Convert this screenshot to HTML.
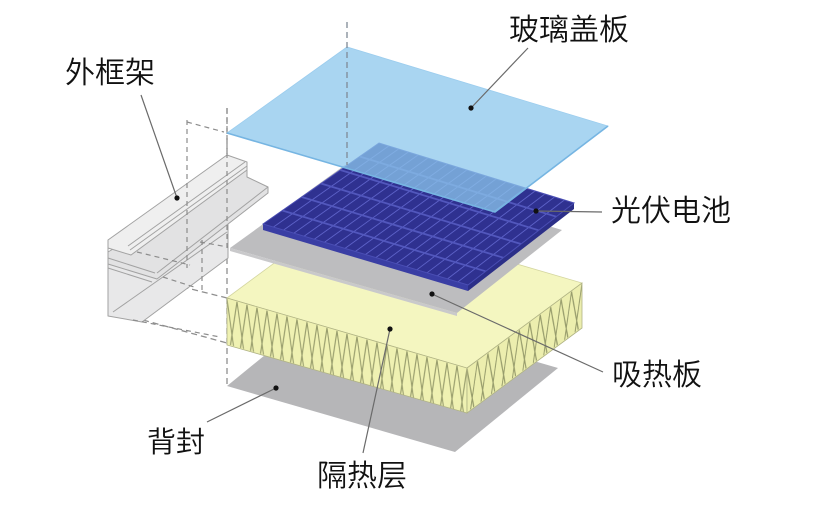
<!DOCTYPE html>
<html><head><meta charset="utf-8"><style>
html,body{margin:0;padding:0;background:#fff;}
svg{display:block;}
text{font-family:"Liberation Sans","Noto Sans CJK SC",sans-serif;font-size:30px;fill:#111;font-weight:350;}
</style></head><body>
<svg width="820" height="507" viewBox="0 0 820 507" xmlns="http://www.w3.org/2000/svg">
<defs>
<pattern id="zzL" patternUnits="userSpaceOnUse" x="0" y="0" width="10" height="47" patternTransform="translate(227,298) skewY(16.2)">
<path d="M0,1 L6.5,46 M3.5,46 L10,1" stroke="#979c6c" stroke-width="1.1" fill="none"/>
</pattern>
<pattern id="zzR" patternUnits="userSpaceOnUse" x="0" y="0" width="10.45" height="45" patternTransform="translate(467,368) skewY(-36.5)">
<path d="M0,1 L6.8,44 M3.6,44 L10.45,1" stroke="#979c6c" stroke-width="1.1" fill="none"/>
</pattern>
</defs>
<rect width="820" height="507" fill="#fff"/>

<!-- back sheet -->
<polygon points="227,386 330,302 558,368 455,452" fill="#b6b6b8"/>

<!-- dashed lines (behind) -->
<g stroke="#8f8f8f" stroke-width="1.3" stroke-dasharray="6 4" fill="none">
<line x1="227" y1="108" x2="227" y2="386"/>
<line x1="143" y1="320" x2="227" y2="343"/>
<line x1="163" y1="282" x2="227" y2="298"/>
</g>

<!-- insulation block -->
<polygon points="227,298 342,213 582,283 467,368" fill="#f4f6c0" stroke="#d4d6a0" stroke-width="0.8"/>
<polygon points="227,298 467,368 467,413 227,345" fill="#eff1b2"/>
<polygon points="227,298 467,368 467,413 227,345" fill="url(#zzL)" stroke="#b0b384" stroke-width="0.8"/>
<polygon points="467,368 582,283 582,328 467,413" fill="#eceeae"/>
<polygon points="467,368 582,283 582,328 467,413" fill="url(#zzR)" stroke="#b0b384" stroke-width="0.8"/>

<!-- absorber plate -->
<polygon points="230,248 345,165 562,230 457,313" fill="#bdbdbf"/>
<polygon points="230,248 457,313 457,316 230,251" fill="#c9c9cb"/>

<!-- PV panel -->
<polygon points="263,224 468,285 468,291 263,230" fill="#3a3ea4"/>
<polygon points="468,285 574,203 574,209 468,291" fill="#2c2f88"/>
<polygon points="263,224 379,143 574,203 468,285" fill="#2f3190"/>
<g stroke="#5d62c8" stroke-width="0.9">
<line x1="273.3" y1="227.1" x2="388.8" y2="146"/>
<line x1="283.5" y1="230.1" x2="398.5" y2="149"/>
<line x1="293.8" y1="233.2" x2="408.3" y2="152"/>
<line x1="304" y1="236.2" x2="418" y2="155"/>
<line x1="314.3" y1="239.3" x2="427.8" y2="158"/>
<line x1="324.5" y1="242.3" x2="437.5" y2="161"/>
<line x1="334.8" y1="245.4" x2="447.3" y2="164"/>
<line x1="345" y1="248.4" x2="457" y2="167"/>
<line x1="355.3" y1="251.5" x2="466.8" y2="170"/>
<line x1="365.5" y1="254.5" x2="476.5" y2="173"/>
<line x1="375.8" y1="257.6" x2="486.3" y2="176"/>
<line x1="386" y1="260.6" x2="496" y2="179"/>
<line x1="396.3" y1="263.7" x2="505.8" y2="182"/>
<line x1="406.5" y1="266.7" x2="515.5" y2="185"/>
<line x1="416.8" y1="269.8" x2="525.3" y2="188"/>
<line x1="427" y1="272.8" x2="535" y2="191"/>
<line x1="437.3" y1="275.9" x2="544.8" y2="194"/>
<line x1="447.5" y1="278.9" x2="554.5" y2="197"/>
<line x1="457.8" y1="282" x2="564.3" y2="200"/>
</g>
<g stroke="#5257bd" stroke-width="1.8">
<line x1="282.3" y1="210.5" x2="485.7" y2="271.3"/>
<line x1="301.7" y1="197" x2="503.3" y2="257.7"/>
<line x1="321" y1="183.5" x2="521" y2="244"/>
<line x1="340.3" y1="170" x2="538.7" y2="230.3"/>
<line x1="359.7" y1="156.5" x2="556.3" y2="216.7"/>
</g>
<polygon points="263,224 379,143 574,203 468,285" fill="none" stroke="#4a4eb4" stroke-width="1"/>

<!-- frame -->
<g stroke="#a2a2a2" stroke-width="1" stroke-linejoin="round">
<polygon points="108,258 157,278 228,223 228,258 142,322 108,316" fill="#e8e8e9"/>
<line x1="113" y1="312" x2="227" y2="232"/>
<line x1="108" y1="268" x2="152" y2="282"/>
<polygon points="108,252 247,170 247,177 268,187 268,193 157,279 108,264" fill="#e2e2e3"/>
<line x1="157" y1="273" x2="268" y2="187"/>
<line x1="108" y1="258" x2="155" y2="273"/>
<polygon points="108,240 227,155 247,162 247,170 131,255 108,248" fill="#efefef"/>
<line x1="128" y1="246" x2="245" y2="162"/>
<line x1="130" y1="250" x2="247" y2="166"/>
<line x1="108" y1="240" x2="108" y2="316"/>
</g>

<!-- dashed lines (front) -->
<g stroke="#8c8c8c" stroke-width="1.2" stroke-dasharray="5 4" fill="none">
<line x1="227" y1="108" x2="227" y2="250"/>
<line x1="187" y1="120" x2="187" y2="268"/>
<line x1="187" y1="122" x2="224" y2="132"/>
<line x1="202" y1="240" x2="202" y2="290"/>
<line x1="137" y1="252" x2="190" y2="265"/>
<line x1="163" y1="277" x2="197" y2="288"/>
<line x1="200" y1="242" x2="228" y2="247"/>
<line x1="133" y1="320" x2="220" y2="337"/>
</g>

<!-- glass -->
<polygon points="227,133 347,47 608,126 495,212" fill="#8cc7ec" fill-opacity="0.75" stroke="#9ccdee" stroke-width="0.8"/>
<polyline points="227,133 495,212 608,126" fill="none" stroke="#76b5e2" stroke-width="1.6"/>

<line x1="347" y1="22" x2="347" y2="165" stroke="#7f8a96" stroke-width="1.3" stroke-dasharray="6 4"/>

<!-- leaders -->
<g stroke="#6a6a6a" stroke-width="1.2">
<line x1="141" y1="95" x2="177" y2="198"/>
<line x1="528" y1="48" x2="471" y2="108"/>
<line x1="536" y1="211" x2="602" y2="212"/>
<line x1="432" y1="294" x2="603" y2="372"/>
<line x1="207" y1="422" x2="276" y2="388"/>
<line x1="363" y1="453" x2="390" y2="329"/>
</g>
<g fill="#111">
<circle cx="177" cy="198" r="2.6"/>
<circle cx="471" cy="108" r="2.6"/>
<circle cx="536" cy="211" r="2.6"/>
<circle cx="432" cy="294" r="2.6"/>
<circle cx="276" cy="388" r="2.6"/>
<circle cx="390" cy="329" r="2.6"/>
</g>

<!-- labels -->
<text x="65" y="83">外框架</text>
<text x="509" y="40">玻璃盖板</text>
<text x="611" y="221">光伏电池</text>
<text x="612" y="385">吸热板</text>
<text x="147" y="452" style="font-size:29px">背封</text>
<text x="317" y="486">隔热层</text>
</svg>
</body></html>
